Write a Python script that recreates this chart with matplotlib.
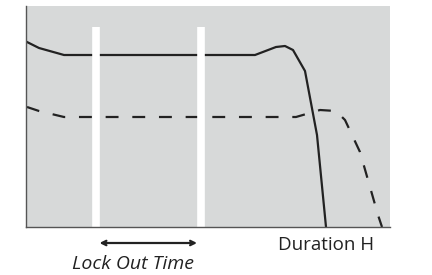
import matplotlib
matplotlib.use("Agg")
import matplotlib.pyplot as plt

# ==========================================
# DATA (arbitrary units)
# ==========================================
solid_x = [1, 13, 38, 229, 250, 259, 267, 279, 291, 300]
solid_y = [185, 179, 172, 172, 180, 181, 177, 156, 92, 0]

dashed_x = [1, 13, 38, 270, 294, 310, 319, 334, 352, 356]
dashed_y = [120, 116, 110, 110, 117, 116, 107, 75, 12, 0]

lockout_x = [69.5, 175]
lockout_top = 200

x_label = "Duration H"
lockout_label = "Lock Out Time"

# ==========================================
# PLOT
# ==========================================
fig = plt.figure(figsize=(4.32, 2.75), dpi=100)
ax = fig.add_axes([26 / 432, 48 / 275, 364 / 432, 221 / 275])
ax.set_facecolor("#d7d9d9")

ax.plot(solid_x, solid_y, color="#222222", lw=1.6, solid_joinstyle="round")
ax.plot(dashed_x, dashed_y, color="#222222", lw=1.6, dashes=(5.8, 6.2))

for lx in lockout_x:
    ax.plot([lx, lx], [0, lockout_top], color="white", lw=5.5, solid_capstyle="butt")

ax.set_xlim(0, 364)
ax.set_ylim(0, 221)
ax.set_xticks([])
ax.set_yticks([])
for side in ["top", "right"]:
    ax.spines[side].set_visible(False)
for side in ["left", "bottom"]:
    ax.spines[side].set_color("#555555")
    ax.spines[side].set_linewidth(1.0)

# lock out arrow and labels under the axis
ax.annotate("", xy=(lockout_x[0] + 4, -16), xytext=(lockout_x[1] - 4, -16),
            xycoords="data", textcoords="data", annotation_clip=False,
            arrowprops=dict(arrowstyle="<->", color="#222222", lw=1.6,
                            mutation_scale=8, shrinkA=0, shrinkB=0))
ax.text(107, -37, lockout_label,
        ha="center", va="center", fontsize=14, style="italic",
        family="Open Sans", color="#222222", clip_on=False)
ax.text(300, -18, x_label, ha="center", va="center", fontsize=13.5,
        family="Open Sans", color="#222222", clip_on=False)

fig.savefig("out.png", dpi=100)
